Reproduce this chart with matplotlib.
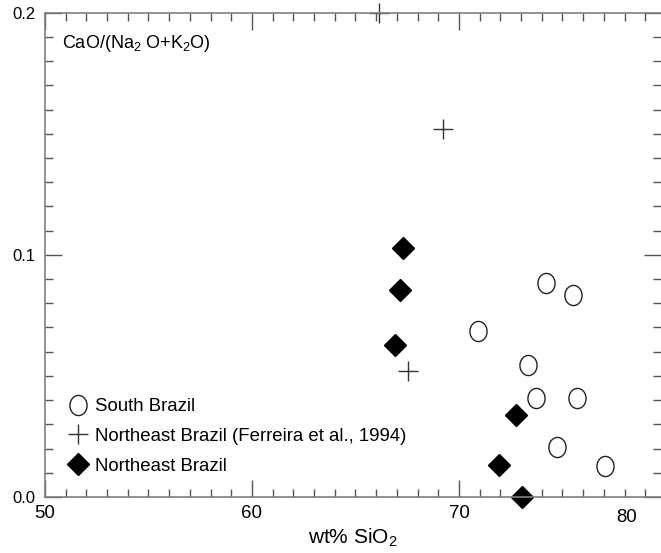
import matplotlib
matplotlib.use('Agg')
import matplotlib.pyplot as plt
from matplotlib.ticker import MultipleLocator
import numpy as np

plt.rcParams['font.family'] = 'Liberation Sans'
plt.rcParams['mathtext.fontset'] = 'custom'
plt.rcParams['mathtext.rm'] = 'Liberation Sans'
plt.rcParams['mathtext.it'] = 'Liberation Sans:italic'
plt.rcParams['mathtext.default'] = 'regular'

# South Brazil (open circles)
south_sio2 = [74.2, 75.5, 70.9, 73.35, 73.7, 75.7, 74.75, 77.05]
south_ratio = [0.0885, 0.0835, 0.0685, 0.0547, 0.041, 0.041, 0.0208, 0.013]

# Northeast Brazil, Ferreira et al. 1994 (plus signs)
ferreira_sio2 = [66.15, 69.25, 67.55]
ferreira_ratio = [0.2, 0.152, 0.052]

# Northeast Brazil (filled diamonds)
ne_sio2 = [67.3, 67.15, 66.9, 72.75, 71.95, 73.05]
ne_ratio = [0.103, 0.0856, 0.0627, 0.034, 0.0133, 0.0]

x_major = [50, 60, 70]
y_major = [0.0, 0.1, 0.2]
y_labels = ['0.0', '0.1', '0.2']

# slightly tall ellipse marker like the original
t = np.linspace(0, 2 * np.pi, 60)
ellipse = list(zip(0.85 * np.cos(t), np.sin(t)))

fig = plt.figure(figsize=(6.61, 5.53), dpi=100)
ax = fig.add_axes([45 / 661, 56 / 553, 616 / 661, 484.3 / 553])

axis_col = '#808080'
tick_col = '#555555'

ax.plot(south_sio2, south_ratio, linestyle='none', marker=ellipse, ms=14.5,
        mfc='white', mec='#222222', mew=1.0, label='South Brazil')
ax.plot(ferreira_sio2, ferreira_ratio, linestyle='none', marker='+', ms=15,
        mec='#333333', mew=1.0, label='Northeast Brazil (Ferreira et al., 1994)')
ax.plot(ne_sio2, ne_ratio, linestyle='none', marker='D', ms=11,
        mfc='black', mec='black', label='Northeast Brazil')
for line in ax.lines:
    line.set_clip_on(False)

ax.set_xlim(50, 79.76)
ax.set_ylim(0, 0.2)

ax.set_xticks(x_major)
ax.set_xticklabels([str(v) for v in x_major])
ax.set_yticks(y_major)
ax.set_yticklabels(y_labels)
ax.xaxis.set_minor_locator(MultipleLocator(1))
ax.yaxis.set_minor_locator(MultipleLocator(0.01))

ax.tick_params(which='both', direction='in', top=True, right=True,
               color=tick_col, width=1.0)
ax.tick_params(which='major', length=12)
ax.tick_params(which='minor', length=6)
ax.tick_params(axis='x', which='major', labelsize=13.4, pad=6)
ax.tick_params(axis='y', which='major', labelsize=12, pad=7)

for s in ['left', 'bottom', 'top']:
    ax.spines[s].set_color(axis_col)
    ax.spines[s].set_linewidth(1.2)
ax.spines['right'].set_visible(False)

# the last x label sits a bit left of its value in the original
ax.text(78.12, -0.024, '80', transform=ax.get_xaxis_transform(),
        ha='center', va='top', fontsize=13.4)

ax.set_xlabel('wt% SiO$_2$', fontsize=15, labelpad=3)

fig.text(62 / 661, 1 - 43 / 553, 'CaO/(Na$_2$ O+K$_2$O)', fontsize=13,
         va='center', ha='left')

ax.legend(loc='upper left', bbox_to_anchor=(0.0385, 0.204), frameon=False,
          fontsize=13.4, borderaxespad=0, borderpad=0, handlelength=1.0,
          handletextpad=0.41, labelspacing=0.68, numpoints=1)

fig.savefig('out.png', dpi=100)
